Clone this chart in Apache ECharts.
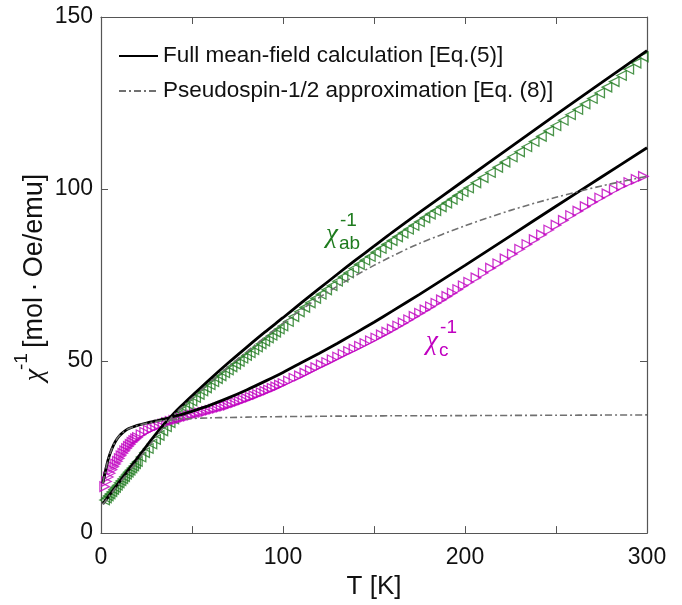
<!DOCTYPE html>
<html>
<head>
<meta charset="utf-8">
<title>inverse susceptibility</title>
<script src="https://cdn.jsdelivr.net/npm/echarts@6/dist/echarts.min.js"></script>
<style>
  html, body { margin: 0; padding: 0; background: #fff; }
  #chart { width: 682px; height: 605px; }
</style>
</head>
<body>
<div id="chart"></div>
<script>
// temperatures of the calculated curves (K)
var tCalc = [1, 2, 4, 6, 8, 10, 12, 15, 20, 25, 30, 35, 40, 45, 50, 60, 70, 80, 90, 100,
  110, 120, 130, 140, 150, 160, 175, 200, 225, 250, 275, 300];
// full mean-field, ab and c
var mfAb = [8.5, 9.2, 10.6, 12.0, 13.4, 14.8, 16.2, 18.3, 21.8, 25.3, 28.7, 31.9, 34.8, 37.4, 39.9, 44.8, 49.5, 54.0, 58.4, 62.6,
  66.9, 71.1, 75.3, 79.4, 83.4, 87.4, 93.2, 102.7, 112.2, 121.6, 130.9, 140.2];
var mfC = [14.5, 17.0, 21.5, 24.5, 26.7, 28.2, 29.2, 30.3, 31.3, 32.0, 32.6, 33.2, 33.9, 34.6, 35.4, 37.2, 39.3, 41.6, 44.1, 46.7,
  49.5, 52.3, 55.2, 58.2, 61.3, 64.5, 69.4, 77.8, 86.4, 95.0, 103.5, 112.0];
// pseudospin-1/2 approximation, ab and c
var psAb = [8.3, 9.0, 10.4, 11.7, 13.1, 14.4, 15.7, 17.7, 21.0, 24.4, 27.8, 31.2, 34.3, 36.8, 39.2, 43.9, 48.4, 52.7, 56.9, 61.0,
  64.9, 68.5, 71.8, 74.9, 77.8, 80.5, 84.2, 89.3, 93.8, 97.6, 100.9, 103.7];
var psC = [14.5, 17.0, 21.5, 24.5, 26.7, 28.2, 29.2, 30.3, 31.3, 31.9, 32.4, 32.8, 33.0, 33.15, 33.3, 33.5, 33.6, 33.7, 33.8, 33.85,
  33.9, 33.95, 34.0, 34.0, 34.05, 34.1, 34.1, 34.15, 34.2, 34.25, 34.3, 34.35];

// measured points (K)
var tMeas = [2, 3, 4, 5, 6, 7, 8, 9, 10, 11, 12, 13, 14, 15, 16, 17, 18, 19, 20,
  22, 24, 26, 28, 30, 32, 34, 36, 38, 40, 42, 44, 46, 48, 50, 52, 54, 56, 58, 60,
  62, 64, 66, 68, 70, 72, 74, 76, 78, 80, 82, 84, 86, 88, 90, 92, 94, 96, 98, 100,
  103, 106, 109, 112, 115, 118, 121, 124, 127, 130, 133, 136, 139, 142, 145, 148, 151, 154, 157, 160,
  163, 166, 169, 172, 175, 178, 181, 184, 187, 190, 193, 196, 199,
  202, 206, 210, 214, 218, 222, 226, 230, 234, 238, 242, 246, 250, 254, 258, 262, 266, 270,
  274, 278, 282, 286, 290, 294, 298];
var chiAb = [9.6, 10.2, 10.8, 11.4, 12.0, 12.7, 13.3, 13.9, 14.6, 15.2, 15.8, 16.4, 17.1, 17.7, 18.3, 18.9, 19.5, 20.2, 20.8,
  22.1, 23.4, 24.6, 25.9, 27.2, 28.4, 29.7, 30.9, 32.1, 33.2, 34.3, 35.4, 36.4, 37.4, 38.4, 39.4, 40.3, 41.3, 42.2, 43.1,
  44.0, 44.9, 45.7, 46.6, 47.4, 48.3, 49.1, 49.9, 50.8, 51.6, 52.4, 53.3, 54.1, 55.0, 55.8, 56.7, 57.5, 58.4, 59.3, 60.2,
  61.5, 62.9, 64.3, 65.6, 66.9, 68.2, 69.4, 70.7, 71.9, 73.2, 74.4, 75.6, 76.9, 78.1, 79.3, 80.4, 81.6, 82.7, 83.9, 85.0,
  86.1, 87.2, 88.3, 89.4, 90.5, 91.6, 92.7, 93.7, 94.8, 95.9, 97.0, 98.1, 99.2,
  100.3, 101.8, 103.3, 104.8, 106.3, 107.8, 109.3, 110.8, 112.3, 113.8, 115.3, 116.9, 118.4, 120.0, 121.6, 123.1, 124.7, 126.3,
  127.9, 129.6, 131.2, 133.0, 134.8, 136.6, 138.4];
var chiC = [13.5, 15.0, 16.3, 17.4, 18.4, 19.3, 20.1, 20.9, 21.7, 22.5, 23.2, 23.9, 24.6, 25.2, 25.8, 26.4, 26.9, 27.4, 27.8,
  28.6, 29.3, 29.9, 30.4, 30.9, 31.3, 31.7, 32.1, 32.5, 32.8, 33.1, 33.4, 33.7, 34.0, 34.3, 34.6, 34.9, 35.1, 35.4, 35.7,
  36.0, 36.3, 36.6, 36.9, 37.2, 37.6, 37.9, 38.3, 38.7, 39.1, 39.5, 39.9, 40.3, 40.8, 41.2, 41.6, 42.1, 42.5, 43.0, 43.5,
  44.2, 45.0, 45.7, 46.5, 47.3, 48.1, 48.9, 49.6, 50.4, 51.2, 52.0, 52.8, 53.5, 54.3, 55.1, 55.9, 56.7, 57.6, 58.4, 59.3,
  60.2, 61.1, 62.0, 63.0, 63.9, 64.9, 65.8, 66.8, 67.8, 68.8, 69.8, 70.8, 71.9,
  72.9, 74.2, 75.6, 77.0, 78.3, 79.7, 81.1, 82.5, 83.9, 85.3, 86.7, 88.1, 89.5, 90.9, 92.3, 93.6, 94.9, 96.2,
  97.4, 98.6, 99.8, 100.9, 101.9, 102.8, 103.7];

var nameFull = 'Full mean-field calculation [Eq.(5)]';
var namePseudo = 'Pseudospin-1/2 approximation [Eq. (8)]';
var green = '#1e7b1e';
var magenta = '#c000c0';
var axisColor = '#555';
var sansFont = '"Liberation Sans", Arial, Helvetica, sans-serif';
var serifFont = '"Liberation Serif", "DejaVu Serif", serif';

function pairs(xs, ys) {
  return xs.map(function (x, i) { return [x, ys[i]]; });
}

var chart = echarts.init(document.getElementById('chart'));

var tickStyle = { show: true, inside: true, length: 7, lineStyle: { color: axisColor, width: 1 } };
var lineAxis = { show: true, onZero: false, lineStyle: { color: axisColor, width: 1.2 } };

var option = {
  animation: false,
  backgroundColor: '#fff',
  grid: { left: 101, right: 35, top: 17, bottom: 58 },
  legend: {
    data: [nameFull, namePseudo],
    orient: 'vertical',
    left: 113,
    top: 39,
    itemWidth: 39,
    itemHeight: 12,
    itemGap: 11,
    itemStyle: { opacity: 0 },
    textStyle: { fontFamily: sansFont, fontSize: 22.5, color: '#111', lineHeight: 24 }
  },
  xAxis: [{
    type: 'value', min: 0, max: 300, interval: 50, position: 'bottom',
    axisLine: lineAxis, axisTick: tickStyle, splitLine: { show: false },
    axisLabel: {
      margin: 13, fontFamily: sansFont, fontSize: 23, color: '#111',
      formatter: function (v) { return v % 100 === 0 ? String(v) : ''; }
    },
    name: 'T [K]', nameLocation: 'middle', nameGap: 34,
    nameTextStyle: { fontFamily: sansFont, fontSize: 26, color: '#111' }
  }, {
    type: 'value', min: 0, max: 300, interval: 50, position: 'top',
    axisLine: lineAxis, axisTick: tickStyle, axisLabel: { show: false }, splitLine: { show: false }
  }],
  yAxis: [{
    type: 'value', min: 0, max: 150, interval: 50, position: 'left',
    axisLine: lineAxis, axisTick: tickStyle, splitLine: { show: false },
    axisLabel: { margin: 8, fontFamily: sansFont, fontSize: 23, color: '#111' }
  }, {
    type: 'value', min: 0, max: 150, interval: 50, position: 'right',
    axisLine: lineAxis, axisTick: tickStyle, axisLabel: { show: false }, splitLine: { show: false }
  }],
  series: [{
    name: 'chi_ab data', type: 'scatter', data: pairs(tMeas, chiAb),
    symbol: 'triangle', symbolSize: 9.5, symbolRotate: 90,
    itemStyle: { color: 'rgba(0,0,0,0)', borderColor: green, borderWidth: 1.3 }
  }, {
    name: 'chi_c data', type: 'scatter', data: pairs(tMeas, chiC),
    symbol: 'triangle', symbolSize: 9.5, symbolRotate: -90,
    itemStyle: { color: 'rgba(0,0,0,0)', borderColor: magenta, borderWidth: 1.3 }
  }, {
    name: nameFull, type: 'line', data: pairs(tCalc, mfAb), smooth: 0.3, showSymbol: false, symbol: 'none',
    lineStyle: { color: '#000', width: 2.8 }, itemStyle: { color: '#000' }
  }, {
    name: nameFull, type: 'line', data: pairs(tCalc, mfC), smooth: 0.3, showSymbol: false, symbol: 'none',
    lineStyle: { color: '#000', width: 2.8 }, itemStyle: { color: '#000' }
  }, {
    name: namePseudo, type: 'line', data: pairs(tCalc, psAb), smooth: 0.3, showSymbol: false, symbol: 'none',
    lineStyle: { color: '#707070', width: 1.6, type: [7, 3, 2, 3] }, itemStyle: { color: '#707070' }
  }, {
    name: namePseudo, type: 'line', data: pairs(tCalc, psC), smooth: 0.3, showSymbol: false, symbol: 'none',
    lineStyle: { color: '#707070', width: 1.6, type: [7, 3, 2, 3] }, itemStyle: { color: '#707070' }
  }]
};
chart.setOption(option);

// χ labels anchored in data space
function chiLabel(t, v, sub, color) {
  var p = chart.convertToPixel({ xAxisIndex: 0, yAxisIndex: 0 }, [t, v]);
  return {
    type: 'group', x: p[0], y: p[1], children: [
      { type: 'text', style: { text: 'χ', font: 'italic 27px ' + serifFont, fill: color, align: 'center', verticalAlign: 'middle' } },
      { type: 'text', x: 8, y: -14, style: { text: '-1', font: '19px ' + sansFont, fill: color, align: 'left', verticalAlign: 'middle' } },
      { type: 'text', x: 7, y: 9, style: { text: sub, font: '19px ' + sansFont, fill: color, align: 'left', verticalAlign: 'middle' } }
    ]
  };
}

// rotated y-axis title with the superscript
var yTitle = {
  type: 'group', x: 35, y: 280, rotation: Math.PI / 2, children: [
    { type: 'text', x: -95, y: 0, style: { text: 'χ', font: 'italic 28px ' + serifFont, fill: '#111', align: 'center', verticalAlign: 'middle' } },
    { type: 'text', x: -90, y: -13, style: { text: '-1', font: '19px ' + sansFont, fill: '#111', align: 'left', verticalAlign: 'middle' } },
    { type: 'text', x: -68, y: 0, style: { text: '[mol\u2009·\u2009Oe/emu]', font: '27px ' + sansFont, fill: '#111', align: 'left', verticalAlign: 'middle' } }
  ]
};

chart.setOption({
  graphic: [
    chiLabel(126.9, 86.6, 'ab', green),
    chiLabel(181.9, 55.5, 'c', magenta),
    yTitle
  ]
});
</script>
</body>
</html>
